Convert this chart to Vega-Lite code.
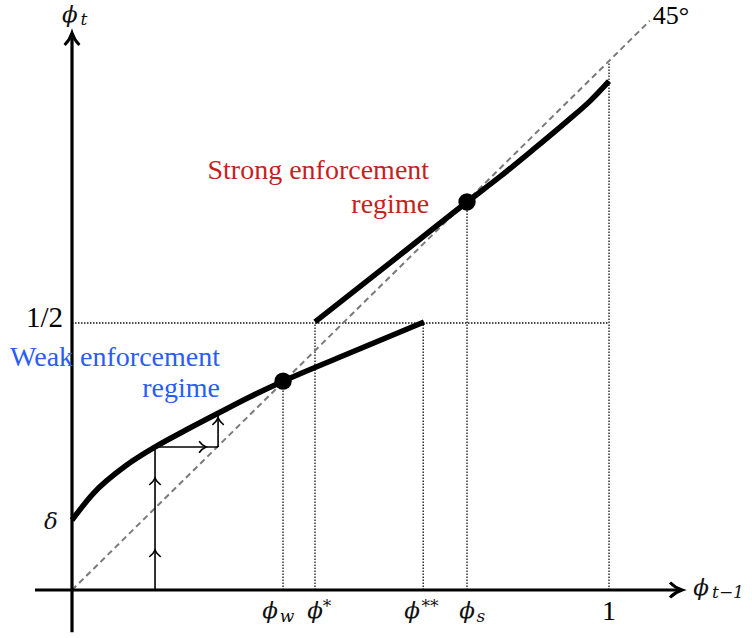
{
  "$schema": "https://vega.github.io/schema/vega-lite/v6.json",
  "width": 752,
  "height": 638,
  "padding": 0,
  "autosize": "none",
  "background": "white",
  "config": {"view": {"stroke": null}},
  "datasets": {
    "dotted": [
      {"x": 0, "y": 0.5, "x2": 1, "y2": 0.5},
      {"x": 0.393, "y": 0, "x2": 0.393, "y2": 0.391},
      {"x": 0.4525, "y": 0, "x2": 0.4525, "y2": 0.5},
      {"x": 0.654, "y": 0, "x2": 0.654, "y2": 0.5},
      {"x": 0.7356, "y": 0, "x2": 0.7356, "y2": 0.7266},
      {"x": 1, "y": 0, "x2": 1, "y2": 0.989}
    ],
    "diag": [{"x": 0, "y": 0, "x2": 1.076, "y2": 1.066}],
    "axes": [
      {"x": -0.069, "y": 0, "x2": 1.128, "y2": 0},
      {"x": 0, "y": -0.079, "x2": 0, "y2": 1.035}
    ],
    "stairs": [
      {"x": 0.1546, "y": 0, "x2": 0.1546, "y2": 0.2678},
      {"x": 0.1546, "y": 0.2678, "x2": 0.272, "y2": 0.2678},
      {"x": 0.272, "y": 0.2678, "x2": 0.272, "y2": 0.333}
    ],
    "curves": [
      {"regime": "weak", "x": 0, "y": 0.131},
      {"regime": "weak", "x": 0.039, "y": 0.180},
      {"regime": "weak", "x": 0.102, "y": 0.234},
      {"regime": "weak", "x": 0.155, "y": 0.268},
      {"regime": "weak", "x": 0.213, "y": 0.300},
      {"regime": "weak", "x": 0.272, "y": 0.331},
      {"regime": "weak", "x": 0.33, "y": 0.361},
      {"regime": "weak", "x": 0.393, "y": 0.391},
      {"regime": "weak", "x": 0.525, "y": 0.447},
      {"regime": "weak", "x": 0.6555, "y": 0.502},
      {"regime": "strong", "x": 0.4525, "y": 0.502},
      {"regime": "strong", "x": 0.594, "y": 0.614},
      {"regime": "strong", "x": 0.7356, "y": 0.7266},
      {"regime": "strong", "x": 0.797, "y": 0.774},
      {"regime": "strong", "x": 0.858, "y": 0.824},
      {"regime": "strong", "x": 0.922, "y": 0.878},
      {"regime": "strong", "x": 0.965, "y": 0.916},
      {"regime": "strong", "x": 1.0, "y": 0.953}
    ],
    "fixed": [
      {"x": 0.393, "y": 0.391},
      {"x": 0.7356, "y": 0.7266}
    ]
  },
  "encoding": {
    "x": {"type": "quantitative", "scale": {"domain": [-0.13408, 1.26629], "nice": false, "zero": false}, "axis": null},
    "y": {"type": "quantitative", "scale": {"domain": [-0.08989, 1.10487], "nice": false, "zero": false}, "axis": null}
  },
  "layer": [
    {
      "data": {"name": "dotted"},
      "mark": {"type": "rule", "strokeDash": [1.5, 1.5], "strokeWidth": 1.3, "color": "#111"},
      "encoding": {"x": {"field": "x"}, "y": {"field": "y"}, "x2": {"field": "x2"}, "y2": {"field": "y2"}}
    },
    {
      "data": {"name": "diag"},
      "mark": {"type": "rule", "strokeDash": [6, 4], "strokeWidth": 2, "color": "#7a7a7a"},
      "encoding": {"x": {"field": "x"}, "y": {"field": "y"}, "x2": {"field": "x2"}, "y2": {"field": "y2"}}
    },
    {
      "data": {"name": "stairs"},
      "mark": {"type": "rule", "strokeWidth": 1.6, "color": "black"},
      "encoding": {"x": {"field": "x"}, "y": {"field": "y"}, "x2": {"field": "x2"}, "y2": {"field": "y2"}}
    },
    {
      "data": {"name": "axes"},
      "mark": {"type": "rule", "strokeWidth": 3.2, "color": "black"},
      "encoding": {"x": {"field": "x"}, "y": {"field": "y"}, "x2": {"field": "x2"}, "y2": {"field": "y2"}}
    },
    {
      "data": {"name": "curves"},
      "mark": {"type": "line", "interpolate": "monotone", "strokeWidth": 5.5, "color": "black", "strokeCap": "butt"},
      "encoding": {"x": {"field": "x"}, "y": {"field": "y"}, "detail": {"field": "regime"}}
    },
    {
      "data": {"name": "fixed"},
      "mark": {"type": "point", "shape": "circle", "filled": true, "size": 300, "color": "black", "opacity": 1},
      "encoding": {"x": {"field": "x"}, "y": {"field": "y"}}
    },
    {
      "data": {"values": [{"x": 0, "y": 1.0206}]},
      "mark": {"type": "point", "shape": "M-0.62,0 Q-0.2,-0.4 0,-1 Q0.2,-0.4 0.62,0", "filled": false, "size": 576, "strokeWidth": 3, "color": "black", "opacity": 1},
      "encoding": {"x": {"field": "x"}, "y": {"field": "y"}}
    },
    {
      "data": {"values": [{"x": 1.1136, "y": 0}]},
      "mark": {"type": "point", "shape": "M-0.62,0 Q-0.2,-0.4 0,-1 Q0.2,-0.4 0.62,0", "angle": 90, "filled": false, "size": 576, "strokeWidth": 3, "color": "black", "opacity": 1},
      "encoding": {"x": {"field": "x"}, "y": {"field": "y"}}
    },
    {
      "data": {"values": [{"x": 0.1546, "y": 0.0637}, {"x": 0.1546, "y": 0.1985}, {"x": 0.272, "y": 0.311}]},
      "mark": {"type": "point", "shape": "M-0.95,0.15 Q-0.3,-0.3 0,-1 Q0.3,-0.3 0.95,0.15", "filled": false, "size": 144, "strokeWidth": 1.6, "color": "black", "opacity": 1},
      "encoding": {"x": {"field": "x"}, "y": {"field": "y"}}
    },
    {
      "data": {"values": [{"x": 0.2384, "y": 0.2678}]},
      "mark": {"type": "point", "shape": "M-0.95,0.15 Q-0.3,-0.3 0,-1 Q0.3,-0.3 0.95,0.15", "angle": 90, "filled": false, "size": 144, "strokeWidth": 1.6, "color": "black", "opacity": 1},
      "encoding": {"x": {"field": "x"}, "y": {"field": "y"}}
    },
    {
      "data": {"values": [
        {"x": -0.004, "y": 1.077, "t": "ϕ"},
        {"x": 0.3687, "y": -0.0393, "t": "ϕ"},
        {"x": 0.4525, "y": -0.0393, "t": "ϕ"},
        {"x": 0.6331, "y": -0.0393, "t": "ϕ"},
        {"x": 0.7356, "y": -0.0393, "t": "ϕ"},
        {"x": 1.1713, "y": 0.0037, "t": "ϕ"},
        {"x": -0.0391, "y": 0.127, "t": "δ"}
      ]},
      "mark": {"type": "text", "font": "DejaVu Serif", "fontStyle": "italic", "fontSize": 23, "align": "center", "baseline": "middle", "color": "#111"},
      "encoding": {"x": {"field": "x"}, "y": {"field": "y"}, "text": {"field": "t"}}
    },
    {
      "data": {"values": [
        {"x": 0.0223, "y": 1.0674, "t": "t"},
        {"x": 0.4004, "y": -0.0506, "t": "w"},
        {"x": 0.7616, "y": -0.0506, "t": "s"},
        {"x": 1.2216, "y": -0.0056, "t": "t−1"}
      ]},
      "mark": {"type": "text", "font": "DejaVu Serif", "fontStyle": "italic", "fontSize": 17, "align": "center", "baseline": "middle", "color": "#111"},
      "encoding": {"x": {"field": "x"}, "y": {"field": "y"}, "text": {"field": "t"}}
    },
    {
      "data": {"values": [
        {"x": 0.4749, "y": -0.032, "t": "*"},
        {"x": 0.6667, "y": -0.032, "t": "**"}
      ]},
      "mark": {"type": "text", "font": "DejaVu Serif", "fontSize": 17, "align": "center", "baseline": "middle", "color": "#111"},
      "encoding": {"x": {"field": "x"}, "y": {"field": "y"}, "text": {"field": "t"}}
    },
    {
      "data": {"values": [{"x": -0.0168, "y": 0.5094, "t": "1/2"}]},
      "mark": {"type": "text", "font": "Liberation Serif", "fontSize": 29, "align": "right", "baseline": "middle", "color": "black"},
      "encoding": {"x": {"field": "x"}, "y": {"field": "y"}, "text": {"field": "t"}}
    },
    {
      "data": {"values": [{"x": 1.0, "y": -0.0412, "t": "1"}]},
      "mark": {"type": "text", "font": "Liberation Serif", "fontSize": 28, "align": "center", "baseline": "middle", "color": "black"},
      "encoding": {"x": {"field": "x"}, "y": {"field": "y"}, "text": {"field": "t"}}
    },
    {
      "data": {"values": [{"x": 1.1155, "y": 1.0749, "t": "45°"}]},
      "mark": {"type": "text", "font": "Liberation Serif", "fontSize": 26, "align": "center", "baseline": "middle", "color": "black"},
      "encoding": {"x": {"field": "x"}, "y": {"field": "y"}, "text": {"field": "t"}}
    },
    {
      "data": {"values": [{"x": 0.665, "y": 0.770, "t": "Strong enforcement"}, {"x": 0.665, "y": 0.706, "t": "regime"}]},
      "mark": {"type": "text", "font": "Liberation Serif", "fontSize": 28, "align": "right", "baseline": "alphabetic", "color": "#c71f1f"},
      "encoding": {"x": {"field": "x"}, "y": {"field": "y"}, "text": {"field": "t"}}
    },
    {
      "data": {"values": [{"x": 0.2756, "y": 0.419, "t": "Weak enforcement"}, {"x": 0.2756, "y": 0.361, "t": "regime"}]},
      "mark": {"type": "text", "font": "Liberation Serif", "fontSize": 28, "align": "right", "baseline": "alphabetic", "color": "#2b5cf6"},
      "encoding": {"x": {"field": "x"}, "y": {"field": "y"}, "text": {"field": "t"}}
    }
  ]
}
